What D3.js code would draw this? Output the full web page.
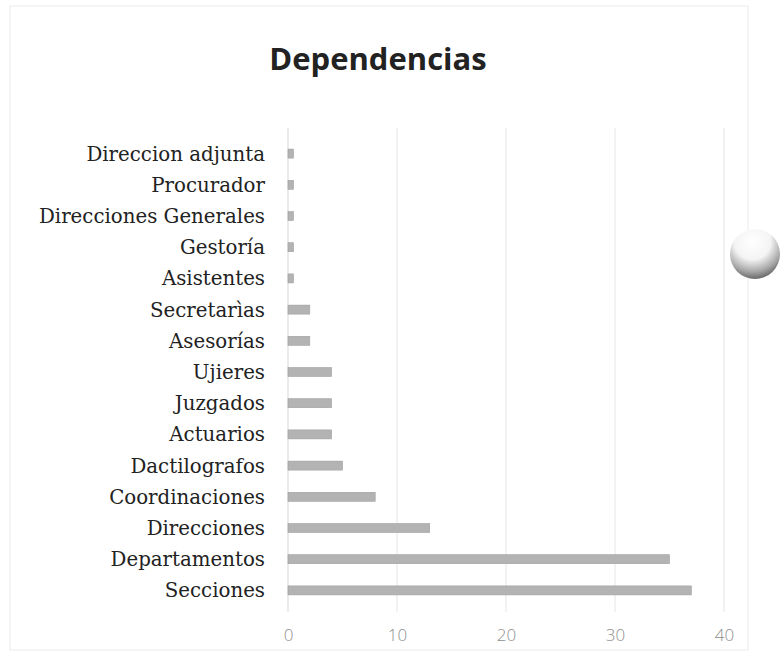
<!DOCTYPE html>
<html><head><meta charset="utf-8">
<script src="https://cdn.jsdelivr.net/npm/d3@7"></script>
<style>body{margin:0;background:#fff}</style>
</head><body>
<svg id="c" width="784" height="656"></svg>
<script>
const categories = ["Direccion adjunta","Procurador ","Direcciones Generales","Gestoría","Asistentes ","Secretarìas","Asesorías ","Ujieres","Juzgados","Actuarios","Dactilografos","Coordinaciones","Direcciones","Departamentos","Secciones"];
const values = [0.5,0.5,0.5,0.5,0.5,2,2,4,4,4,5,8,13,35,37];
const xTicks = [0,10,20,30,40];
const title = "Dependencias";

const svg = d3.select("#c");
// faint scan border
svg.append("rect").attr("x",10).attr("y",6).attr("width",738).attr("height",644)
  .attr("fill","none").attr("stroke","#f2f2f2").attr("stroke-width",1.5);

const x = d3.scaleLinear().domain([0,40]).range([288,724]);
const y = d3.scaleBand().domain(categories).range([138,606]).paddingInner(0.7).paddingOuter(0.35);

// gridlines
svg.append("g").selectAll("line").data(xTicks.slice(1)).join("line")
  .attr("x1",d=>x(d)).attr("x2",d=>x(d)).attr("y1",128).attr("y2",612)
  .attr("stroke","#eeeeee").attr("stroke-width",1.5);
svg.append("line").attr("x1",x(0)).attr("x2",x(0)).attr("y1",128).attr("y2",612)
  .attr("stroke","#e4e4e4").attr("stroke-width",1.5);

// bars
svg.append("g").selectAll("rect").data(categories).join("rect")
  .attr("x",x(0)).attr("y",d=>y(d)+y.bandwidth()/2-4.5)
  .attr("width",(d,i)=>x(values[i])-x(0)).attr("height",9)
  .attr("fill","#b3b3b3").attr("stroke","#a0a0a0").attr("stroke-width",0.6);

// category labels
svg.append("g").selectAll("text").data(categories).join("text")
  .attr("x",265).attr("y",d=>y(d)+y.bandwidth()/2)
  .attr("dy","0.35em").attr("text-anchor","end")
  .attr("font-family","DejaVu Serif").attr("font-size",19.8).attr("fill","#222")
  .text(d=>d);

// x axis
const ax = svg.append("g").attr("transform","translate(0,620)")
  .call(d3.axisBottom(x).tickValues(xTicks).tickSize(0).tickPadding(9));
ax.select(".domain").remove();
ax.selectAll("text").attr("font-family","Open Sans").attr("font-size",17).attr("fill","#8f8f8f").attr("font-weight",300);

// title
svg.append("text").attr("x",378).attr("y",70).attr("text-anchor","middle")
  .attr("font-family","Open Sans").attr("font-weight","bold").attr("font-size",31).attr("fill","#222")
  .text(title);

// decorative sphere (scan artifact)
const defs = svg.append("defs");
const g = defs.append("radialGradient").attr("id","sph").attr("cx","45%").attr("cy","25%").attr("r","80%");
g.append("stop").attr("offset","0%").attr("stop-color","#ffffff");
g.append("stop").attr("offset","45%").attr("stop-color","#f4f4f4");
g.append("stop").attr("offset","75%").attr("stop-color","#a8a8a8");
g.append("stop").attr("offset","100%").attr("stop-color","#555");
svg.append("circle").attr("cx",755).attr("cy",254).attr("r",25).attr("fill","url(#sph)");
</script>
</body></html>
